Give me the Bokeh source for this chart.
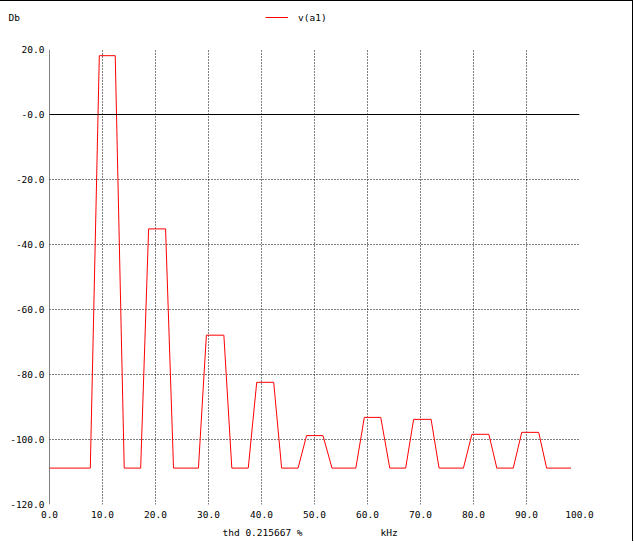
from bokeh.plotting import figure
from bokeh.layouts import column
from bokeh.models import Range1d, FixedTicker, Span, Label, Legend, LegendItem
from bokeh.embed import file_html
from bokeh.resources import INLINE

# ---- data ----
freq_khz = [0, 7.7, 9.4, 12.4, 14.1, 17.2, 18.7, 21.9, 23.4, 28.1, 29.6, 32.9,
            34.4, 37.5, 39.1, 42.3, 43.8, 46.9, 48.5, 51.6, 53.3, 57.8, 59.4,
            62.5, 64.2, 67.2, 68.7, 72.0, 73.5, 78.1, 79.7, 82.9, 84.4, 87.5,
            89.1, 92.3, 93.8, 98.4]
level_db = [-108.8, -108.8, 18.1, 18.1, -108.8, -108.8, -35.2, -35.2,
            -108.8, -108.8, -67.9, -67.9, -108.8, -108.8, -82.4, -82.4,
            -108.8, -108.8, -98.8, -98.8, -108.8, -108.8, -93.2, -93.2,
            -108.8, -108.8, -93.8, -93.8, -108.8, -108.8, -98.4, -98.4,
            -108.8, -108.8, -97.8, -97.8, -108.8, -108.8]

x_ticks = [0, 10, 20, 30, 40, 50, 60, 70, 80, 90, 100]
x_tick_labels = ["0.0", "10.0", "20.0", "30.0", "40.0", "50.0", "60.0",
                 "70.0", "80.0", "90.0", "100.0"]
y_ticks = [20, 0, -20, -40, -60, -80, -100, -120]
y_tick_labels = ["20.0", "-0.0", "-20.0", "-40.0", "-60.0", "-80.0",
                 "-100.0", "-120.0"]

series_name = "v(a1)"
y_title = "Db"
x_title = "kHz"
thd_note = "thd 0.215667 %"

FONT = "DejaVu Sans Mono"
FSIZE = "9.5px"
W = 632
HEAD_H = 35
FOOT_H = 17


def blank_fig(h):
    f = figure(width=W, height=h, x_range=Range1d(0, W), y_range=Range1d(h, 0),
               output_backend="svg", toolbar_location=None,
               x_axis_type=None, y_axis_type=None, frame_align=False,
               min_border=0, min_border_left=0, min_border_right=0,
               min_border_top=0, min_border_bottom=0)
    f.outline_line_color = None
    f.xgrid.visible = False
    f.ygrid.visible = False
    return f


# ---- header: y-unit title and legend ----
head = blank_fig(HEAD_H)
head.extra_x_ranges = {"off": Range1d(1000, 1100)}
hidden = head.line(freq_khz, level_db, line_color="red", line_width=1, x_range_name="off")
head.add_layout(Label(x=8, y=16, text=y_title, text_font=FONT, text_font_size=FSIZE,
                      text_baseline="middle", text_align="left", text_color="black"))
legend = Legend(items=[LegendItem(label=series_name, renderers=[hidden])],
                location=(265, HEAD_H - 16 - 6),
                glyph_width=23, glyph_height=12, label_height=12, label_standoff=10,
                padding=0, margin=0, spacing=0, border_line_color=None,
                background_fill_alpha=0, label_text_font=FONT, label_text_font_size=FSIZE,
                label_text_color="black", label_text_baseline="middle")
head.add_layout(legend, "center")

# ---- main chart ----
p = figure(width=W, height=488, x_range=Range1d(0, 100), y_range=Range1d(-120, 20),
           output_backend="svg", toolbar_location=None, frame_align=False,
           min_border_left=49, min_border_top=13, min_border_right=W - 49 - 530,
           min_border_bottom=20)
p.outline_line_color = None

for ax, ticks, labels in ((p.xaxis[0], x_ticks, x_tick_labels), (p.yaxis[0], y_ticks, y_tick_labels)):
    ax.ticker = FixedTicker(ticks=ticks)
    ax.major_label_overrides = {t: l for t, l in zip(ticks, labels)}
    ax.axis_line_color = None
    ax.major_tick_line_color = None
    ax.minor_tick_line_color = None
    ax.major_tick_in = 0
    ax.major_tick_out = 0
    ax.major_label_text_font = FONT
    ax.major_label_text_font_size = FSIZE
    ax.major_label_text_color = "black"
p.xaxis.major_label_standoff = 6
p.yaxis.major_label_standoff = 5

p.xgrid.ticker = FixedTicker(ticks=x_ticks)
p.ygrid.ticker = FixedTicker(ticks=y_ticks)
for g in (p.xgrid[0], p.ygrid[0]):
    g.grid_line_color = "black"
    g.grid_line_dash = "1 2"
    g.grid_line_width = 1

p.add_layout(Span(location=0, dimension="height", line_color="black", line_width=1))
p.add_layout(Span(location=0, dimension="width", line_color="black", line_width=1))

p.line(freq_khz, level_db, line_color="red", line_width=1)

# ---- footer: notes under the x axis ----
foot = blank_fig(FOOT_H)
foot.add_layout(Label(x=222, y=8, text=thd_note, text_font=FONT, text_font_size=FSIZE,
                      text_baseline="middle", text_align="left", text_color="black"))
foot.add_layout(Label(x=380, y=8, text=x_title, text_font=FONT, text_font_size=FSIZE,
                      text_baseline="middle", text_align="left", text_color="black"))

layout = column(head, p, foot, spacing=0,
                styles={"border-top": "1px solid black", "border-right": "1px solid black"})
open("out.html", "w").write(file_html(layout, INLINE))
